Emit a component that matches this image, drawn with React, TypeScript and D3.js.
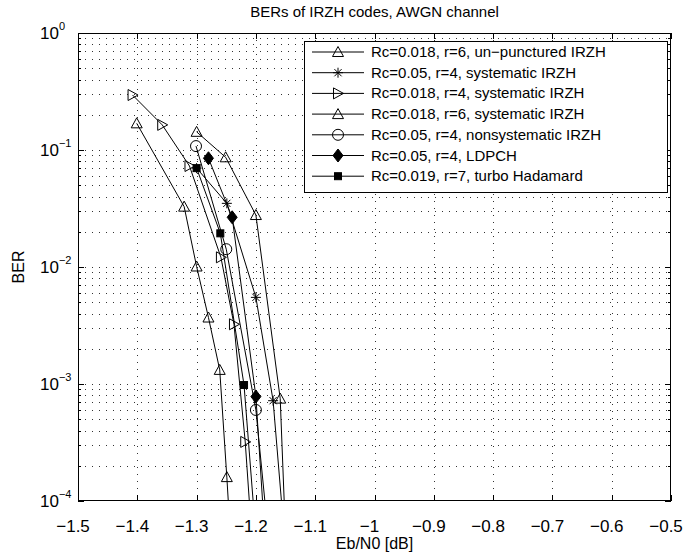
import React from "react";
import * as d3 from "d3";

const W = 697;
const H = 556;

const title = "BERs of IRZH codes, AWGN channel";
const xLabel = "Eb/N0 [dB]";
const yLabel = "BER";
const xTicks = [-1.5, -1.4, -1.3, -1.2, -1.1, -1, -0.9, -0.8, -0.7, -0.6, -0.5];
const yExps = [0, -1, -2, -3, -4];

const seriesNames = [
  "Rc=0.018, r=6, un\u2212punctured IRZH",
  "Rc=0.05, r=4, systematic IRZH",
  "Rc=0.018, r=4, systematic IRZH",
  "Rc=0.018, r=6, systematic IRZH",
  "Rc=0.05, r=4, nonsystematic IRZH",
  "Rc=0.05, r=4, LDPCH",
  "Rc=0.019, r=7, turbo Hadamard",
];
const seriesMarkers = ["triUp", "star", "triRight", "triUp", "circle", "diamond", "square"];

const xA = [-1.401, -1.321, -1.3, -1.28, -1.261, -1.249, -1.243];
const yA = [0.169, 0.0328, 0.0101, 0.0037, 0.00132, 1.6e-4, 5e-5];
const xB = [-1.3, -1.249, -1.2, -1.171, -1.152];
const yB = [0.07, 0.035, 0.0055, 7.2e-4, 5e-5];
const xC = [-1.408, -1.358, -1.312, -1.259, -1.237, -1.218, -1.207];
const yC = [0.295, 0.164, 0.073, 0.0121, 0.00324, 3.2e-4, 5e-5];
const xD = [-1.3, -1.251, -1.2, -1.159, -1.15];
const yD = [0.143, 0.0866, 0.0278, 7.5e-4, 5e-5];
const xE = [-1.301, -1.25, -1.2, -1.179];
const yE = [0.108, 0.0142, 6.0e-4, 5e-5];
const xF = [-1.28, -1.24, -1.2, -1.185];
const yF = [0.085, 0.0266, 7.8e-4, 5e-5];
const xG = [-1.3, -1.26, -1.22, -1.2];
const yG = [0.07, 0.0194, 9.8e-4, 5e-5];

const seriesX = [xA, xB, xC, xD, xE, xF, xG];
const seriesY = [yA, yB, yC, yD, yE, yF, yG];

const L = 78, R = 671, T = 33, B = 501;
const x = d3.scaleLinear().domain([-1.5, -0.5]).range([L, R]);
const y = d3.scaleLog().domain([1e-4, 1]).range([B, T]);

const FONT = "'Liberation Sans', Arial, Helvetica, sans-serif";

function Marker({ type, cx, cy }: { type: string; cx: number; cy: number }) {
  const s = { stroke: "#000", strokeWidth: 1, fill: "none" };
  if (type === "triUp")
    return <polygon points={`${cx},${cy - 5.5} ${cx + 5.5},${cy + 4.5} ${cx - 5.5},${cy + 4.5}`} {...s} />;
  if (type === "triRight")
    return <polygon points={`${cx - 4.5},${cy - 5.5} ${cx + 5.5},${cy} ${cx - 4.5},${cy + 5.5}`} {...s} />;
  if (type === "circle") return <circle cx={cx} cy={cy} r={5.5} {...s} />;
  if (type === "diamond")
    return <polygon points={`${cx},${cy - 6.5} ${cx + 5},${cy} ${cx},${cy + 6.5} ${cx - 5},${cy}`} fill="#000" stroke="#000" />;
  if (type === "square") return <rect x={cx - 3.5} y={cy - 3.5} width={7} height={7} fill="#000" stroke="#000" />;
  if (type === "star") {
    const r = 5, d = 3.6;
    return (
      <g stroke="#000" strokeWidth={1}>
        <line x1={cx - r} y1={cy} x2={cx + r} y2={cy} />
        <line x1={cx} y1={cy - r} x2={cx} y2={cy + r} />
        <line x1={cx - d} y1={cy - d} x2={cx + d} y2={cy + d} />
        <line x1={cx - d} y1={cy + d} x2={cx + d} y2={cy - d} />
      </g>
    );
  }
  return null;
}

const digitW = (s: string, fs: number) =>
  s.split("").reduce((a, c) => a + (c === "." ? 0.278 : 0.556), 0) * fs;

export default function App() {
  const line = d3.line<[number, number]>().x((d) => x(d[0])).y((d) => y(d[1]));
  const hGrid: number[] = [];
  for (let e = -4; e < 0; e++) for (let j = 1; j <= 9; j++) {
    const v = j * Math.pow(10, e);
    if (v > 1e-4 && v < 1) hGrid.push(v);
  }
  const crisp = (v: number) => Math.round(v) + 0.5;
  const tickFs = 17;
  const legRowY = (i: number) => 52 + i * 20.7;

  return (
    <svg width={W} height={H} style={{ display: "block", position: "absolute", left: 0, top: 0, background: "#fff" }} fontFamily={FONT}>
      <rect x={0} y={0} width={W} height={H} fill="#fff" />
      <defs>
        <clipPath id="plotClip">
          <rect x={L} y={T} width={R - L} height={B - T} />
        </clipPath>
      </defs>
      {/* grid */}
      <g stroke="#333" strokeWidth={1} strokeDasharray="1 6" shapeRendering="crispEdges">
        {xTicks.slice(1, -1).map((t) => (
          <line key={"vx" + t} x1={crisp(x(t))} x2={crisp(x(t))} y1={T} y2={B} />
        ))}
        {hGrid.map((v) => (
          <line key={"hy" + v} x1={L} x2={R} y1={crisp(y(v))} y2={crisp(y(v))} />
        ))}
      </g>
      {/* ticks */}
      <g stroke="#000" strokeWidth={1} shapeRendering="crispEdges">
        {xTicks.map((t) => (
          <g key={"xt" + t}>
            <line x1={crisp(x(t))} x2={crisp(x(t))} y1={B} y2={B - 6} />
            <line x1={crisp(x(t))} x2={crisp(x(t))} y1={T} y2={T + 6} />
          </g>
        ))}
        {yExps.map((e) => (
          <g key={"yt" + e}>
            <line x1={L} x2={L + 6} y1={crisp(y(Math.pow(10, e)))} y2={crisp(y(Math.pow(10, e)))} />
            <line x1={R} x2={R - 6} y1={crisp(y(Math.pow(10, e)))} y2={crisp(y(Math.pow(10, e)))} />
          </g>
        ))}
        {hGrid.filter((v) => ![1e-1, 1e-2, 1e-3].some((m) => Math.abs(m - v) < 1e-9)).map((v) => (
          <g key={"ym" + v}>
            <line x1={L} x2={L + 3} y1={crisp(y(v))} y2={crisp(y(v))} />
            <line x1={R} x2={R - 3} y1={crisp(y(v))} y2={crisp(y(v))} />
          </g>
        ))}
      </g>
      {/* series */}
      <g clipPath="url(#plotClip)">
        {seriesX.map((xs, i) => {
          const pts = xs.map((xv, k) => [xv, seriesY[i][k]] as [number, number]);
          return <path key={"s" + i} d={line(pts) || ""} fill="none" stroke="#000" strokeWidth={1} />;
        })}
        {seriesX.map((xs, i) =>
          xs.map((xv, k) => (
            <Marker key={"m" + i + "_" + k} type={seriesMarkers[i]} cx={x(xv)} cy={y(seriesY[i][k])} />
          ))
        )}
      </g>
      {/* box */}
      <rect x={L + 0.5} y={T + 0.5} width={R - L - 1} height={B - T - 1} fill="none" stroke="#000" shapeRendering="crispEdges" />
      {/* x tick labels */}
      <g fontSize={tickFs} fill="#000">
        {xTicks.map((t) => {
          const s = Math.abs(t).toString();
          const hw = digitW(s, tickFs) / 2;
          return (
            <g key={"xl" + t}>
              <text x={x(t)} y={532} textAnchor="middle">{s}</text>
              {t < 0 && <text x={x(t) - hw} y={532} textAnchor="end">{"\u2212"}</text>}
            </g>
          );
        })}
      </g>
      {/* y tick labels */}
      <g fill="#000">
        {yExps.map((e) => (
          <text key={"yl" + e} x={40} y={y(Math.pow(10, e)) + 6} fontSize={tickFs}>
            10
            <tspan dy={-9} fontSize={11}>{e === 0 ? "0" : "\u2212" + Math.abs(e)}</tspan>
          </text>
        ))}
      </g>
      {/* titles */}
      <text x={(L + R) / 2} y={17} textAnchor="middle" fontSize={15}>{title}</text>
      <text x={(L + R) / 2} y={549} textAnchor="middle" fontSize={16}>{xLabel}</text>
      <text transform={`translate(24,${(T + B) / 2}) rotate(-90)`} textAnchor="middle" fontSize={16}>{yLabel}</text>
      {/* legend */}
      <g>
        <rect x={304.5} y={41.5} width={363} height={151} fill="#fff" stroke="#000" shapeRendering="crispEdges" />
        {seriesNames.map((n, i) => (
          <g key={"lg" + i}>
            <line x1={312} x2={364} y1={legRowY(i)} y2={legRowY(i)} stroke="#000" />
            <Marker type={seriesMarkers[i]} cx={338} cy={legRowY(i)} />
            <text x={371} y={legRowY(i) + 5} fontSize={15}>{n}</text>
          </g>
        ))}
      </g>
    </svg>
  );
}
